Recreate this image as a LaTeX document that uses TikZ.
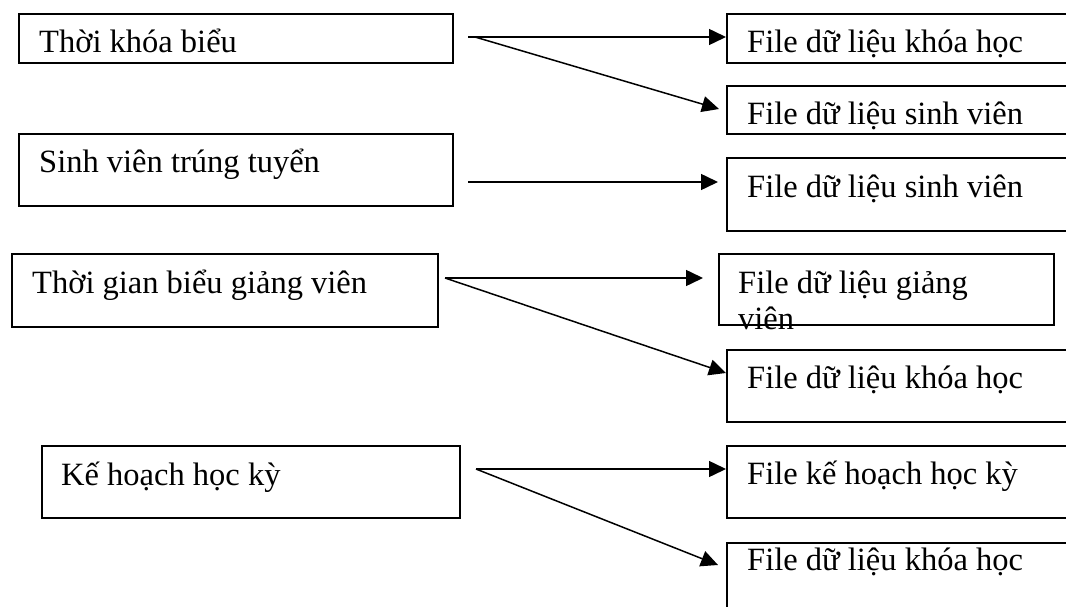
\documentclass[tikz,border=0pt]{standalone}
\usepackage{fontspec}
\setmainfont{Liberation Serif}
\usetikzlibrary{arrows.meta}
\begin{document}
\begin{tikzpicture}[x=1pt,y=-1pt,
  box/.style={draw=black,line width=1.6pt,inner sep=0pt,anchor=north west},
  lbl/.style={anchor=base west,inner sep=0pt,font=\fontsize{32.5}{36}\selectfont},
  arr/.style={draw=black,line width=1.5pt,-{Triangle[length=17pt,width=16pt]}}]
\useasboundingbox (0,0) rectangle (1066,607);
\clip (0,0) rectangle (1066,607);
\fill[white] (0,0) rectangle (1066,607);
% left boxes
\node[box,minimum width=434pt,minimum height=49pt] (l1) at (18,13) {};
\node[box,minimum width=434pt,minimum height=72pt] (l2) at (18,133) {};
\node[box,minimum width=426pt,minimum height=73pt] (l3) at (11,253) {};
\node[box,minimum width=418pt,minimum height=72pt] (l4) at (41,445) {};
% right boxes
\node[box,minimum width=360pt,minimum height=49pt] (r1) at (726,13) {};
\node[box,minimum width=360pt,minimum height=48pt] (r2) at (726,85) {};
\node[box,minimum width=360pt,minimum height=73pt] (r3) at (726,157) {};
\node[box,minimum width=335pt,minimum height=71pt] (r4) at (718,253) {};
\node[box,minimum width=360pt,minimum height=72pt] (r5) at (726,349) {};
\node[box,minimum width=360pt,minimum height=72pt] (r6) at (726,445) {};
\node[box,minimum width=360pt,minimum height=90pt] (r7) at (726,542) {};
% texts
\node[lbl] (t1) at (39,53) {Thời khóa biểu};
\node[lbl] (t2) at (39,173) {Sinh viên trúng tuyển};
\node[lbl] (t3) at (32,293) {Thời gian biểu giảng viên};
\node[lbl] (t4) at (61,485) {Kế hoạch học kỳ};
\node[lbl] (u1) at (747,53) {File dữ liệu khóa học};
\node[lbl] (u2) at (747,125) {File dữ liệu sinh viên};
\node[lbl] (u3) at (747,197) {File dữ liệu sinh viên};
\node[lbl] (u4) at (738,293) {File dữ liệu giảng};
\node[lbl] (u4b) at (738,329) {viên};
\node[lbl] (u5) at (747,388) {File dữ liệu khóa học};
\node[lbl] (u6) at (747,484) {File kế hoạch học kỳ};
\node[lbl] (u7) at (747,570) {File dữ liệu khóa học};
% connector ends
\coordinate (s1) at (468,37);
\coordinate (s1b) at (475,37);
\coordinate (s2) at (468,182);
\coordinate (s3) at (445,278);
\coordinate (s4) at (476,469);
\coordinate (e2) at (719,109);
\coordinate (e3) at (718,182);
\coordinate (e4) at (703,278);
\coordinate (e5) at (726,373);
\coordinate (e7) at (718,565);
% connectors
\draw[arr] (s1) -- (r1.west |- s1);
\draw[arr] (s1b) -- (e2);
\draw[arr] (s2) -- (e3);
\draw[arr] (s3) -- (e4);
\draw[arr] (s3) -- (e5);
\draw[arr] (s4) -- (r6.west |- s4);
\draw[arr] (s4) -- (e7);
\end{tikzpicture}
\end{document}
